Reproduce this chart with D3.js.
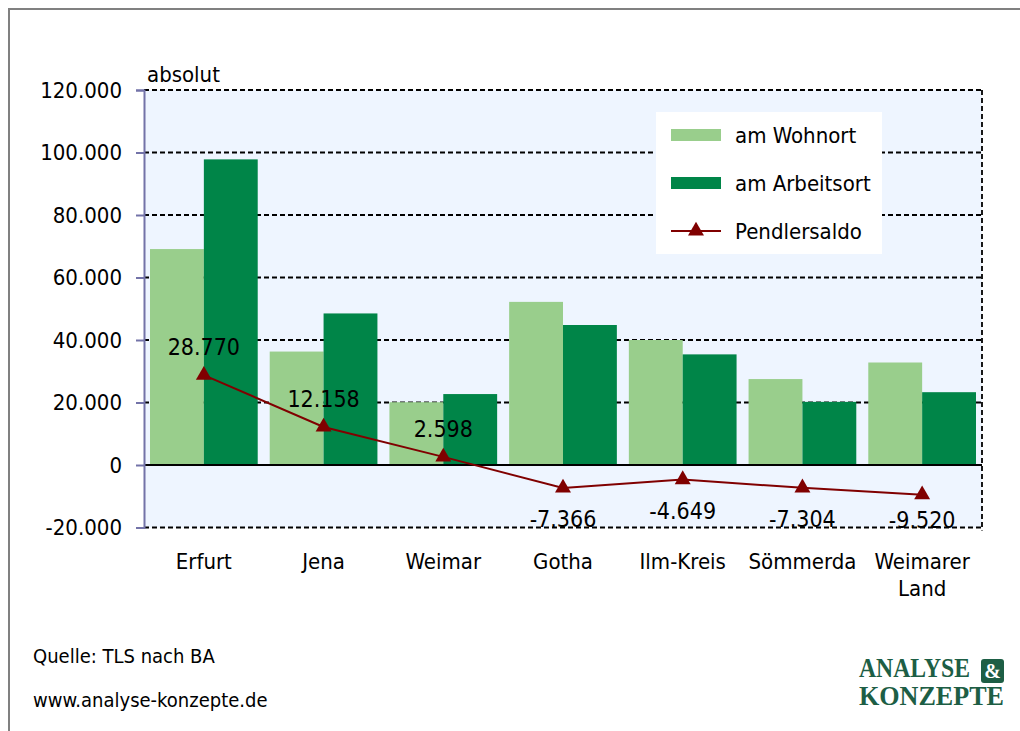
<!DOCTYPE html>
<html>
<head>
<meta charset="utf-8">
<script src="https://cdn.jsdelivr.net/npm/d3@7"></script>
<style>
  body { margin: 0; background: #fff; }
  svg text { font-family: "DejaVu Sans Condensed", "DejaVu Sans", sans-serif; fill: #000; }
  svg text.logo { font-family: "Liberation Serif", "DejaVu Serif", serif; font-weight: bold; }
</style>
</head>
<body>
<div id="chart"></div>
<script>
// data
const categories = ["Erfurt", "Jena", "Weimar", "Gotha", "Ilm-Kreis", "Sömmerda", "Weimarer Land"];
const wohnort = [69100, 36300, 20100, 52200, 40000, 27500, 32800];
const arbeitsort = [97800, 48500, 22700, 44800, 35400, 20200, 23300];
const saldo = [28770, 12158, 2598, -7366, -4649, -7304, -9520];
const saldoLabels = ["28.770", "12.158", "2.598", "-7.366", "-4.649", "-7.304", "-9.520"];
const yTicks = [-20000, 0, 20000, 40000, 60000, 80000, 100000, 120000];
const seriesNames = ["am Wohnort", "am Arbeitsort", "Pendlersaldo"];

const colLight = "#99ce8c", colDark = "#008548", colLine = "#800000";

const W = 1020, H = 731;
const plot = {left: 144, right: 982, top: 90, bottom: 527.5};

const svg = d3.select("#chart").append("svg")
    .attr("width", W).attr("height", H);

// outer frame (top + left)
svg.append("path")
    .attr("d", "M9,731 L9,9 L1020,9")
    .attr("fill", "none").attr("stroke", "#808080").attr("stroke-width", 2);

const y = d3.scaleLinear().domain([-20000, 120000]).range([plot.bottom, plot.top]);
const x = d3.scaleBand().domain(categories).range([plot.left, plot.right]).padding(0);
const xs = d3.scaleBand().domain([0, 1]).range([6, x.bandwidth() - 6]).padding(0);

// plot background
svg.append("rect")
    .attr("x", plot.left).attr("y", plot.top)
    .attr("width", plot.right - plot.left).attr("height", plot.bottom - plot.top)
    .attr("fill", "#eef5ff");

// dashed gridlines
svg.append("g").selectAll("line")
    .data(yTicks.filter(d => d !== 0))
    .join("line")
    .attr("x1", plot.left).attr("x2", plot.right)
    .attr("y1", d => y(d)).attr("y2", d => y(d))
    .attr("stroke", "#000").attr("stroke-width", 1.8)
    .attr("stroke-dasharray", "5,3");

// right dashed border
svg.append("line")
    .attr("x1", plot.right).attr("x2", plot.right)
    .attr("y1", plot.top).attr("y2", plot.bottom + 3)
    .attr("stroke", "#000").attr("stroke-width", 1.8)
    .attr("stroke-dasharray", "5,3");

// bars
const groups = svg.append("g").selectAll("g")
    .data(categories)
    .join("g")
    .attr("transform", d => `translate(${x(d)},0)`);

groups.append("rect")
    .attr("x", xs(0)).attr("width", xs.bandwidth())
    .attr("y", (d, i) => y(wohnort[i]))
    .attr("height", (d, i) => y(0) - y(wohnort[i]))
    .attr("fill", colLight);

groups.append("rect")
    .attr("x", xs(1)).attr("width", xs.bandwidth())
    .attr("y", (d, i) => y(arbeitsort[i]))
    .attr("height", (d, i) => y(0) - y(arbeitsort[i]))
    .attr("fill", colDark);

// zero line
svg.append("line")
    .attr("x1", plot.left).attr("x2", plot.right)
    .attr("y1", y(0)).attr("y2", y(0))
    .attr("stroke", "#000").attr("stroke-width", 2);

// y axis
const yAxis = svg.append("g")
    .attr("transform", `translate(${plot.left},0)`)
    .call(d3.axisLeft(y).tickValues(yTicks).tickSize(8).tickPadding(14)
        .tickFormat(d => d3.format(",")(d).replace(/,/g, ".").replace("\u2212", "-")));
yAxis.select(".domain").attr("stroke", "#7373a8").attr("stroke-width", 2);
yAxis.selectAll(".tick line").attr("stroke", "#7373a8").attr("stroke-width", 2);
yAxis.selectAll(".tick text").attr("font-size", 22).attr("fill", "#000");

svg.append("text")
    .attr("x", 147).attr("y", 82)
    .attr("font-size", 22).text("absolut");

// category labels
const cx = d => x(d) + xs(1);
svg.append("g").selectAll("text")
    .data(categories)
    .join("text")
    .attr("x", cx)
    .attr("y", 569)
    .attr("text-anchor", "middle")
    .attr("font-size", 22)
    .each(function(d) {
        const parts = d === "Weimarer Land" ? ["Weimarer", "Land"] : [d];
        d3.select(this).selectAll("tspan").data(parts).join("tspan")
            .attr("x", cx(d)).attr("dy", (p, j) => j === 0 ? 0 : 27).text(p => p);
    });

// saldo line
const tri = d3.symbol().type(d3.symbolTriangle).size(110);
const line = d3.line().x((d, i) => cx(categories[i])).y(d => y(d));
svg.append("path")
    .datum(saldo)
    .attr("d", line)
    .attr("fill", "none").attr("stroke", colLine).attr("stroke-width", 2);

svg.append("g").selectAll("path")
    .data(saldo)
    .join("path")
    .attr("d", tri)
    .attr("transform", (d, i) => `translate(${cx(categories[i])},${y(d)})`)
    .attr("fill", colLine);

// labels above positive, below negative (kept inside the plot)
svg.append("g").selectAll("text")
    .data(saldo)
    .join("text")
    .attr("x", (d, i) => cx(categories[i]))
    .attr("y", d => d >= 0 ? y(d) - 20 : Math.min(y(d) + 39, plot.bottom))
    .attr("text-anchor", "middle")
    .attr("font-size", 23)
    .text((d, i) => saldoLabels[i]);

// legend
const lg = svg.append("g").attr("transform", "translate(656,112)");
lg.append("rect").attr("width", 226).attr("height", 142).attr("fill", "#fff");
seriesNames.forEach((name, i) => {
    const ry = 23 + i * 48;
    if (i < 2) {
        lg.append("rect").attr("x", 15).attr("y", ry - 6).attr("width", 50).attr("height", 12)
            .attr("fill", i === 0 ? colLight : colDark);
    } else {
        lg.append("line").attr("x1", 15).attr("x2", 65).attr("y1", ry).attr("y2", ry)
            .attr("stroke", colLine).attr("stroke-width", 2);
        lg.append("path").attr("d", tri).attr("transform", `translate(40,${ry})`).attr("fill", colLine);
    }
    lg.append("text").attr("x", 79).attr("y", ry + 8).attr("font-size", 22).text(name);
});

// source
svg.append("text").attr("x", 33).attr("y", 663).attr("font-size", 20).text("Quelle: TLS nach BA");
svg.append("text").attr("x", 33).attr("y", 707).attr("font-size", 20).text("www.analyse-konzepte.de");

// logo
const logoCol = "#1d5e45";
const logo = svg.append("g");
logo.append("text").attr("class", "logo").attr("x", 859).attr("y", 677)
    .attr("font-size", 27).attr("textLength", 111).attr("lengthAdjust", "spacingAndGlyphs")
    .style("fill", logoCol).text("ANALYSE");
logo.append("rect").attr("x", 981).attr("y", 659).attr("width", 23).attr("height", 24).attr("rx", 3)
    .attr("fill", logoCol);
logo.append("text").attr("class", "logo").attr("x", 992.5).attr("y", 678).attr("text-anchor", "middle")
    .attr("font-size", 20).style("fill", "#fff").text("&");
logo.append("text").attr("class", "logo").attr("x", 859).attr("y", 705)
    .attr("font-size", 27).attr("textLength", 145).attr("lengthAdjust", "spacingAndGlyphs")
    .style("fill", logoCol).text("KONZEPTE");
</script>
</body>
</html>
